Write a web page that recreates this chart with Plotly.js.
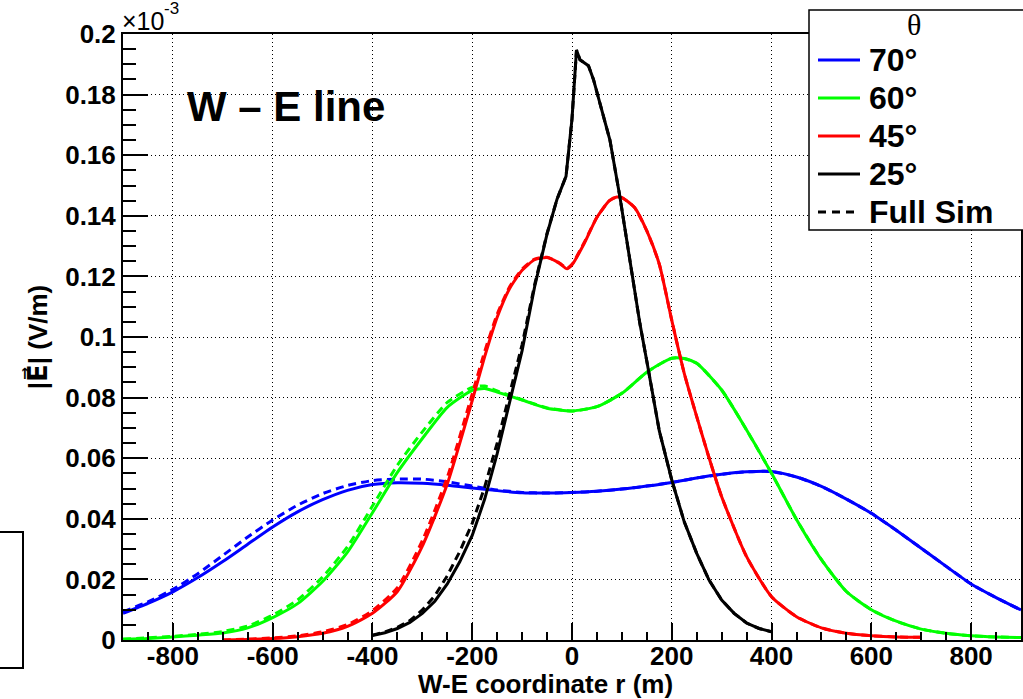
<!DOCTYPE html>
<html><head><meta charset="utf-8">
<script src="https://cdn.plot.ly/plotly-3.0.1.min.js"></script>
<style>html,body{margin:0;padding:0;background:#fff;} #chart{width:1023px;height:699px;}</style>
</head><body><div id="chart"></div>
<script>
// ---- data (|E| in units of 1e-3 V/m) ----
const x70 = [-900,-850,-800,-750,-700,-650,-600,-550,-500,-450,-400,-350,-300,-250,-200,-150,-100,-50,0,50,100,150,200,250,300,350,400,450,500,550,600,650,700,750,800,850,900];
const e70 = [0.0088,0.0121,0.0159,0.0206,0.0259,0.0316,0.0373,0.0423,0.0463,0.0494,0.0513,0.0519,0.0517,0.0511,0.0502,0.0493,0.0486,0.0485,0.0487,0.0491,0.0498,0.0508,0.0520,0.0535,0.0547,0.0555,0.0556,0.0538,0.0507,0.0465,0.0418,0.0362,0.0303,0.0243,0.0185,0.0140,0.0099];
const e70full = [0.0093,0.0126,0.0167,0.0219,0.0279,0.0340,0.0396,0.0445,0.0483,0.0510,0.0526,0.0531,0.0531,0.0522,0.0508,0.0495,0.0487,0.0485,0.0487,0.0491,0.0498,0.0508,0.0520,0.0535,0.0547,0.0555,0.0556,0.0538,0.0507,0.0465,0.0418,0.0362,0.0303,0.0243,0.0185,0.0140,0.0099];

const x60 = [-900,-850,-800,-750,-700,-650,-600,-550,-500,-450,-400,-350,-300,-250,-200,-175,-150,-100,-50,0,50,100,150,200,225,250,300,350,400,450,500,550,600,650,700,750,800,850,900];
const e60 = [0.0002,0.0005,0.0010,0.0016,0.0023,0.0040,0.0074,0.0120,0.0193,0.0290,0.0420,0.0553,0.0665,0.0768,0.0824,0.0830,0.0818,0.0792,0.0765,0.0756,0.0770,0.0814,0.0884,0.0930,0.0929,0.0913,0.0825,0.0693,0.0550,0.0398,0.0265,0.0160,0.0100,0.0062,0.0036,0.0022,0.0014,0.0010,0.0008];
const e60full = [0.0003,0.0007,0.0012,0.0019,0.0028,0.0046,0.0082,0.0132,0.0208,0.0308,0.0442,0.0577,0.0687,0.0784,0.0834,0.0838,0.0822,0.0793,0.0766,0.0756,0.0770,0.0814,0.0884,0.0930,0.0929,0.0913,0.0825,0.0693,0.0550,0.0398,0.0265,0.0160,0.0100,0.0062,0.0036,0.0022,0.0014,0.0010,0.0008];

const x45 = [-700,-650,-600,-550,-500,-450,-400,-350,-300,-250,-200,-175,-150,-125,-100,-75,-50,-25,-10,0,25,50,75,90,100,125,150,175,200,225,250,275,300,350,400,450,500,550,600,650,700];
const e45 = [0.0000,0.0002,0.0005,0.0011,0.0022,0.0045,0.0088,0.0160,0.0310,0.0515,0.0790,0.0935,0.1065,0.1160,0.1220,0.1255,0.1262,0.1243,0.1225,0.1238,0.1310,0.1395,0.1450,0.1462,0.1460,0.1428,0.1350,0.1240,0.1055,0.0880,0.0737,0.0600,0.0473,0.0275,0.0143,0.0077,0.0040,0.0022,0.0014,0.0010,0.0009];
const e45full = [0.0000,0.0003,0.0007,0.0014,0.0027,0.0051,0.0097,0.0173,0.0328,0.0537,0.0812,0.0952,0.1075,0.1166,0.1224,0.1257,0.1263,0.1244,0.1227,0.1240,0.1314,0.1395,0.1450,0.1462,0.1460,0.1428,0.1350,0.1240,0.1055,0.0880,0.0737,0.0600,0.0473,0.0275,0.0143,0.0077,0.0040,0.0022,0.0014,0.0010,0.0009];

const x25 = [-400,-375,-350,-325,-300,-275,-250,-225,-200,-175,-150,-125,-100,-75,-50,-30,-12,0,9,16,33,43,56,76,96,116,136,150,175,200,225,250,275,300,325,350,375,400];
const e25 = [0.0015,0.0024,0.0038,0.0058,0.0088,0.0128,0.0185,0.0258,0.0345,0.0465,0.0615,0.0780,0.0955,0.1165,0.1340,0.1455,0.1530,0.1720,0.1947,0.1915,0.1895,0.1850,0.1772,0.1650,0.1463,0.1255,0.1045,0.0920,0.0690,0.0528,0.0390,0.0286,0.0197,0.0132,0.0088,0.0056,0.0038,0.0027];
const e25full = [0.0016,0.0027,0.0042,0.0064,0.0099,0.0146,0.0212,0.0292,0.0385,0.0505,0.0650,0.0810,0.0975,0.1172,0.1342,0.1455,0.1530,0.1720,0.1947,0.1915,0.1895,0.1850,0.1772,0.1650,0.1463,0.1255,0.1045,0.0920,0.0690,0.0528,0.0390,0.0286,0.0197,0.0132,0.0088,0.0056,0.0038,0.0027];

const seriesNames = ['70°','60°','45°','25°'];
const fullSimName = 'Full Sim';
const xTickVals = [-800,-600,-400,-200,0,200,400,600,800];
const xTickText = ['-800','-600','-400','-200','0','200','400','600','800'];

// ---- layout geometry ----
const W=1023,H=699,L=123,R=2,T=34,B=59;
const pw=W-L-R, ph=H-T-B;
const px=v=>(v-L)/pw, py=v=>(H-B-v)/ph;
const FONT='Liberation Sans, Arial, Helvetica, sans-serif';
const colors=['#0000ff','#00ff00','#ff0000','#000000'];
const xs=[x70,x60,x45,x25], ys=[e70,e60,e45,e25], yf=[e70full,e60full,e45full,e25full];

const traces=[];
for(let i=0;i<4;i++){
  const shape = i===3 ? 'linear' : 'spline';
  traces.push({x:xs[i],y:ys[i],type:'scatter',mode:'lines',name:seriesNames[i],showlegend:false,
    line:{color:colors[i],width:3,shape:shape,smoothing:0.6}});
  traces.push({x:xs[i],y:yf[i],type:'scatter',mode:'lines',name:fullSimName+' '+seriesNames[i],showlegend:false,
    line:{color:colors[i],width:3,dash:'8px,5px',shape:shape,smoothing:0.6}});
}

// manual ROOT-style legend
const legRows=[60,98,136,174,212];
const shapes=[
  {type:'rect',xref:'paper',yref:'paper',x0:px(809),x1:px(1035),y0:py(230),y1:py(10),line:{color:'black',width:1.5},fillcolor:'white',layer:'above'},
  {type:'rect',xref:'paper',yref:'paper',x0:px(-5),x1:px(23),y0:py(668),y1:py(532),line:{color:'black',width:2},fillcolor:'white',layer:'above'}
];
const annotations=[
  {xref:'paper',yref:'paper',x:px(185),y:py(107),xanchor:'left',yanchor:'middle',showarrow:false,text:'W – E line',font:{family:FONT,size:42,color:'black',weight:'bold'}},
  {xref:'paper',yref:'paper',x:px(120),y:py(37),xanchor:'left',yanchor:'bottom',showarrow:false,text:'×10',font:{family:FONT,size:25,color:'black'}},
  {xref:'paper',yref:'paper',x:px(162),y:py(9),xanchor:'left',yanchor:'middle',showarrow:false,text:'-3',font:{family:FONT,size:17,color:'black'}},
  {xref:'paper',yref:'paper',x:px(914),y:py(25),xanchor:'center',yanchor:'middle',showarrow:false,text:'θ',font:{family:'Liberation Serif, Times New Roman, serif',size:30,color:'black'}},
  {xref:'paper',yref:'paper',x:px(545),y:py(684),xanchor:'center',yanchor:'middle',showarrow:false,text:'W-E coordinate r (m)',font:{family:FONT,size:26,color:'black',weight:'bold'}}
];
const legNames=seriesNames.concat([fullSimName]);
const legColors=colors.concat(['#000000']);
for(let k=0;k<5;k++){
  shapes.push({type:'line',xref:'paper',yref:'paper',x0:px(818),x1:px(860),y0:py(legRows[k]),y1:py(legRows[k]),
    line:{color:legColors[k],width:3,dash:k===4?'8px,6px':'solid'},layer:'above'});
  annotations.push({xref:'paper',yref:'paper',x:px(867),y:py(legRows[k]),xanchor:'left',yanchor:'middle',showarrow:false,
    text:legNames[k],font:{family:FONT,size:32,color:'black',weight:'bold'}});
}

const axisCommon={
  ticks:'inside',tickcolor:'black',tickwidth:2,showline:true,linecolor:'black',linewidth:2,mirror:true,
  showgrid:true,gridcolor:'black',gridwidth:1,griddash:'1px,3px',zeroline:false,
  tickfont:{family:FONT,size:26,color:'black',weight:'bold'}
};
const layout={
  width:W,height:H,paper_bgcolor:'white',plot_bgcolor:'white',showlegend:false,
  margin:{l:L,r:R,t:T,b:B,autoexpand:false},
  xaxis:Object.assign({},axisCommon,{range:[-900,900],tickmode:'array',tickvals:xTickVals,ticktext:xTickText,ticklen:17,ticklabelstandoff:-8,
    minor:{tickmode:'linear',tick0:0,dtick:50,ticks:'inside',ticklen:8,tickwidth:2,tickcolor:'black',showgrid:false}}),
  yaxis:Object.assign({},axisCommon,{range:[0,0.2],tick0:0,dtick:0.02,ticklen:25,
    minor:{tick0:0,dtick:0.005,ticks:'inside',ticklen:13,tickwidth:2,tickcolor:'black',showgrid:false},
    title:{text:'|<span style="font-family:DejaVu Sans">E\u20D7</span>| (V/m)',font:{family:FONT,size:26,color:'black',weight:'bold'},standoff:10}}),
  shapes:shapes,annotations:annotations
};
Plotly.newPlot('chart',traces,layout,{staticPlot:true,displayModeBar:false});
</script></body></html>
